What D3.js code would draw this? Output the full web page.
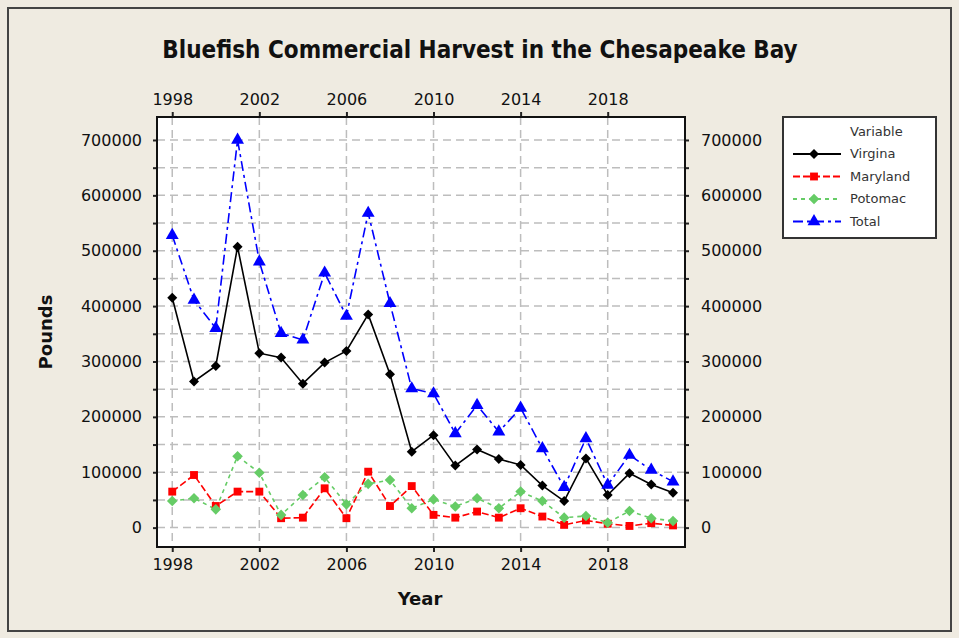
<!DOCTYPE html>
<html>
<head>
<meta charset="utf-8">
<script src="https://cdn.jsdelivr.net/npm/d3@7"></script>
<style>
  body { margin: 0; background: #efebe1; }
  text { font-family: Tahoma, "DejaVu Sans", sans-serif; fill: #111; }
</style>
</head>
<body>
<div id="chart"></div>
<script>
var years = [1998, 1999, 2000, 2001, 2002, 2003, 2004, 2005, 2006, 2007, 2008, 2009,
             2010, 2011, 2012, 2013, 2014, 2015, 2016, 2017, 2018, 2019, 2020, 2021];
var virginia = [415000, 264000, 292000, 507000, 315000, 307000, 260000, 298000, 319000, 385000, 277000, 137000,
                167000, 112000, 141000, 124000, 113000, 76000, 48000, 125000, 59000, 98000, 78000, 63000];
var maryland = [65000, 95000, 39000, 65000, 65000, 17000, 18000, 71000, 17000, 101000, 39000, 75000,
                23000, 18000, 29000, 18000, 35000, 20000, 5000, 13000, 7000, 3000, 8000, 4000];
var potomac = [48000, 53000, 33000, 129000, 99000, 23000, 59000, 91000, 42000, 79000, 86000, 35000,
               51000, 38000, 53000, 35000, 65000, 48000, 18000, 21000, 9000, 30000, 17000, 12000];
var total = [528000, 411000, 360000, 700000, 480000, 351000, 339000, 460000, 382000, 568000, 405000, 251000,
             242000, 170000, 221000, 173000, 216000, 143000, 73000, 161000, 77000, 131000, 104000, 83000];
var yearTicks = [1998, 2002, 2006, 2010, 2014, 2018];
var poundTicks = [0, 100000, 200000, 300000, 400000, 500000, 600000, 700000];

var series = [
  {name: 'Virgina', values: virginia, color: '#000000', dash: null, marker: 'diamond', mcolor: '#000000', msize: 50},
  {name: 'Maryland', values: maryland, color: '#ff0000', dash: '7,3', marker: 'square', mcolor: '#ff0000', msize: 62},
  {name: 'Potomac', values: potomac, color: '#66cc66', dash: '4,4', marker: 'diamond', mcolor: '#66cc66', msize: 56},
  {name: 'Total', values: total, color: '#0000ff', dash: '10,4,3,4', marker: 'triangle', mcolor: '#0000ff', msize: 72}
];

var fullWidth = 959, fullHeight = 638;
var margin = {top: 117, left: 157};
var width = 528, height = 430;

var root = d3.select('#chart').append('svg')
  .attr('width', fullWidth)
  .attr('height', fullHeight);

// outer frame
root.append('rect')
  .attr('x', 8).attr('y', 8)
  .attr('width', 943).attr('height', 623)
  .style('fill', '#efebe1')
  .style('stroke', '#444')
  .style('stroke-width', 2);

root.append('text')
  .attr('x', 480).attr('y', 58)
  .style('text-anchor', 'middle')
  .style('font-family', '"DejaVu Sans Condensed", "DejaVu Sans", sans-serif')
  .style('font-size', '24px')
  .style('font-weight', 'bold')
  .text('Bluefish Commercial Harvest in the Chesapeake Bay');

var svg = root.append('g')
  .attr('transform', 'translate(' + margin.left + ',' + margin.top + ')');

var xScale = d3.scaleLinear().domain([1997.3, 2021.55]).range([0, width]);
var yScale = d3.scaleLinear().domain([-35000, 741500]).range([height, 0]);

svg.append('rect')
  .attr('width', width).attr('height', height)
  .style('fill', '#fff');

// grid
var gridVals = d3.range(0, 700001, 50000);
svg.selectAll('line.hgrid').data(gridVals).enter().append('line')
  .attr('x1', 0).attr('x2', width)
  .attr('y1', function(d) { return yScale(d); })
  .attr('y2', function(d) { return yScale(d); })
  .style('stroke', '#bdbdbd').style('stroke-width', 1.5)
  .style('stroke-dasharray', '8,5');
svg.selectAll('line.vgrid').data(yearTicks).enter().append('line')
  .attr('y1', 0).attr('y2', height)
  .attr('x1', function(d) { return xScale(d); })
  .attr('x2', function(d) { return xScale(d); })
  .style('stroke', '#bdbdbd').style('stroke-width', 1.5)
  .style('stroke-dasharray', '8,5');

// axes
var fmt = d3.format('d');
var yfmt = function(d) { return poundTicks.indexOf(d) >= 0 ? d : ''; };
var xBottom = svg.append('g').attr('transform', 'translate(0,' + height + ')')
  .call(d3.axisBottom(xScale).tickValues(yearTicks).tickFormat(fmt).tickSizeInner(5).tickSizeOuter(0).tickPadding(7));
var xTop = svg.append('g')
  .call(d3.axisTop(xScale).tickValues(yearTicks).tickFormat(fmt).tickSizeInner(5).tickSizeOuter(0).tickPadding(7));
var yLeft = svg.append('g')
  .call(d3.axisLeft(yScale).tickValues(gridVals).tickFormat(yfmt)
    .tickSizeInner(4).tickSizeOuter(0).tickPadding(11));
var yRight = svg.append('g').attr('transform', 'translate(' + width + ',0)')
  .call(d3.axisRight(yScale).tickValues(gridVals).tickFormat(yfmt)
    .tickSizeInner(4).tickSizeOuter(0).tickPadding(12));

[xBottom, xTop, yLeft, yRight].forEach(function(a) {
  a.selectAll('.domain').remove();
  a.selectAll('text').style('font-size', '16px').style('fill', '#111')
    .style('font-family', 'Tahoma, "DejaVu Sans", sans-serif');
  a.selectAll('line').style('stroke', '#222').style('stroke-width', 2);
});

svg.append('rect')
  .attr('width', width).attr('height', height)
  .style('fill', 'none')
  .style('stroke', '#111').style('stroke-width', 2);

// lines and markers
function markerPath(s) {
  if (s.marker === 'triangle') return d3.symbol().type(d3.symbolTriangle).size(s.msize)();
  return d3.symbol().type(d3.symbolSquare).size(s.msize)();
}
function markerRot(s) {
  return s.marker === 'diamond' ? 'rotate(45)' : '';
}

series.forEach(function(s) {
  var line = d3.line()
    .x(function(d, i) { return xScale(years[i]); })
    .y(function(d) { return yScale(d); });
  svg.append('path')
    .datum(s.values)
    .attr('d', line)
    .style('fill', 'none')
    .style('stroke', s.color)
    .style('stroke-width', 1.6)
    .style('stroke-dasharray', s.dash);
});
series.forEach(function(s) {
  svg.selectAll(null).data(s.values).enter().append('path')
    .attr('d', markerPath(s))
    .attr('transform', function(d, i) {
      return 'translate(' + xScale(years[i]) + ',' + yScale(d) + ')' + markerRot(s);
    })
    .style('fill', s.mcolor);
});

// axis titles
root.append('text')
  .attr('x', 420).attr('y', 605)
  .style('text-anchor', 'middle')
  .style('font-size', '18px').style('font-weight', 'bold')
  .text('Year');
root.append('text')
  .attr('transform', 'translate(52,332)rotate(-90)')
  .style('text-anchor', 'middle')
  .style('font-size', '18px').style('font-weight', 'bold')
  .text('Pounds');

// legend
var legend = root.append('g').attr('transform', 'translate(783,117)');
legend.append('rect')
  .attr('width', 153).attr('height', 121)
  .style('fill', '#fff')
  .style('stroke', '#333').style('stroke-width', 2);
legend.append('text')
  .attr('x', 67).attr('y', 19)
  .style('font-size', '13px').style('fill', '#333')
  .text('Variable');
series.forEach(function(s, i) {
  var y = 37 + i * 22.5;
  legend.append('line')
    .attr('x1', 10).attr('x2', 58)
    .attr('y1', y).attr('y2', y)
    .style('stroke', s.color).style('stroke-width', 1.8)
    .style('stroke-dasharray', s.dash);
  legend.append('path')
    .attr('d', markerPath(s))
    .attr('transform', 'translate(31,' + y + ')' + markerRot(s))
    .style('fill', s.mcolor);
  legend.append('text')
    .attr('x', 67).attr('y', y + 4)
    .style('font-size', '13px').style('fill', '#333')
    .text(s.name);
});
</script>
</body>
</html>
